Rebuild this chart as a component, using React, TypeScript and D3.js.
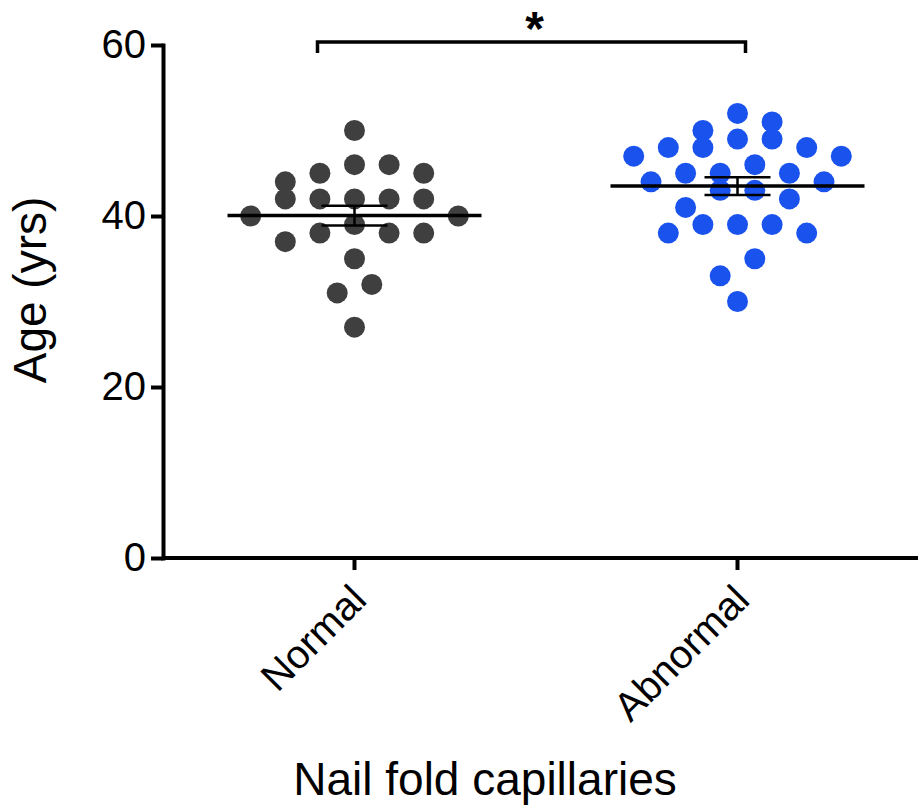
import React, { useEffect, useRef } from "react";
import * as d3 from "d3";

const categories = ["Normal", "Abnormal"];
const normalAges = [50, 46, 46, 45, 45, 44, 42, 42, 42, 42, 42, 40, 40, 39, 38, 38, 38, 37, 35, 32, 31, 27];
const abnormalAges = [52, 51, 50, 49, 49, 48, 48, 48, 47, 47, 46, 45, 45, 45, 44, 44, 43, 43, 42, 41, 39, 39, 39, 38, 38, 35, 33, 30];
const groupColors = ["#3f3f3f", "#1a52ee"];
const yTicks = [0, 20, 40, 60];
const sigLabel = "*";

const W = 918;
const H = 809;
const FONT = "'Liberation Sans', Arial, Helvetica, sans-serif";

// scatter-dot layout: sorted values are grouped in rows (values close to the row's first value),
// each row is spread evenly around the centre, filling from the middle outwards
function rowSwarm(values: number[], tol: number, step: number) {
  const order = d3.range(values.length).sort((a, b) => values[b] - values[a]);
  const out: number[] = new Array(values.length).fill(0);
  let i = 0;
  while (i < order.length) {
    const start = values[order[i]];
    const row: number[] = [];
    while (i < order.length && start - values[order[i]] < tol) row.push(order[i++]);
    const n = row.length;
    // centre-out slot order
    const slots = d3.range(n).map((j) => j - (n - 1) / 2)
      .sort((a, b) => Math.abs(a) - Math.abs(b) || b - a);
    row.forEach((idx, j) => { out[idx] = slots[j] * step; });
  }
  return out;
}

export default function App() {
  const ref = useRef<SVGSVGElement>(null);

  useEffect(() => {
    const svg = d3.select(ref.current);
    svg.selectAll("*").remove();

    const left = 163, bottom = 558, top = 45;
    const y = d3.scaleLinear().domain([0, 60]).range([bottom, top]);
    const x = d3.scalePoint<string>().domain(categories).range([left, 929]).padding(0.5);

    // y axis
    const gy = svg.append("g").attr("transform", `translate(${left},0)`)
      .call(d3.axisLeft(y).tickValues(yTicks).tickSize(12).tickSizeOuter(0).tickPadding(5));
    gy.select(".domain").attr("stroke", "#000").attr("stroke-width", 4).attr("stroke-linecap", "square");
    gy.selectAll(".tick line").attr("stroke", "#000").attr("stroke-width", 4);
    gy.selectAll(".tick text").attr("font-family", FONT).attr("font-size", 40).attr("fill", "#000");

    // x axis
    svg.append("line").attr("x1", left).attr("x2", W).attr("y1", bottom).attr("y2", bottom)
      .attr("stroke", "#000").attr("stroke-width", 4);
    const gx = svg.append("g");
    categories.forEach((c) => {
      const cx = x(c)!;
      gx.append("line").attr("x1", cx).attr("x2", cx).attr("y1", bottom).attr("y2", bottom + 12)
        .attr("stroke", "#000").attr("stroke-width", 4);
      gx.append("text").attr("transform", `translate(${cx - 6},${bottom + 24}) rotate(-45)`)
        .attr("text-anchor", "end").attr("dy", "0.71em")
        .attr("font-family", FONT).attr("font-size", 40).text(c);
    });

    // titles
    svg.append("text").attr("transform", `translate(46,290) rotate(-90)`)
      .attr("text-anchor", "middle").attr("font-family", FONT).attr("font-size", 46).text("Age (yrs)");
    svg.append("text").attr("x", 485).attr("y", 795).attr("text-anchor", "middle")
      .attr("font-family", FONT).attr("font-size", 46).text("Nail fold capillaries");

    // dots, mean and SEM
    [normalAges, abnormalAges].forEach((vals, gi) => {
      const cx = x(categories[gi])!;
      const offs = rowSwarm(vals, 2.5, 34.6);
      svg.append("g").selectAll("circle").data(vals).join("circle")
        .attr("cx", (d, i) => cx + offs[i]).attr("cy", (d) => y(d)).attr("r", 10.5)
        .attr("fill", groupColors[gi]);

      const m = d3.mean(vals)!;
      const sem = d3.deviation(vals)! / Math.sqrt(vals.length);
      const g = svg.append("g").attr("stroke", "#000");
      g.append("line").attr("x1", cx - 127).attr("x2", cx + 127).attr("y1", y(m)).attr("y2", y(m)).attr("stroke-width", 3.5);
      g.append("line").attr("x1", cx).attr("x2", cx).attr("y1", y(m + sem)).attr("y2", y(m - sem)).attr("stroke-width", 2.5);
      [m + sem, m - sem].forEach((v) => {
        g.append("line").attr("x1", cx - 33).attr("x2", cx + 33).attr("y1", y(v)).attr("y2", y(v)).attr("stroke-width", 2.5);
      });
    });

    // significance bracket
    const bx1 = x(categories[0])! - 37, bx2 = x(categories[1])! + 8;
    svg.append("path").attr("d", `M${bx1},53V42H${bx2}V53`).attr("fill", "none")
      .attr("stroke", "#000").attr("stroke-width", 3.5);
    svg.append("text").attr("x", (bx1 + bx2) / 2 + 3).attr("y", 45).attr("text-anchor", "middle")
      .attr("font-family", FONT).attr("font-weight", "bold").attr("font-size", 48).text(sigLabel);
  }, []);

  return (
    <svg ref={ref} width={W} height={H} style={{ position: "absolute", left: 0, top: 0, background: "#fff" }} />
  );
}
